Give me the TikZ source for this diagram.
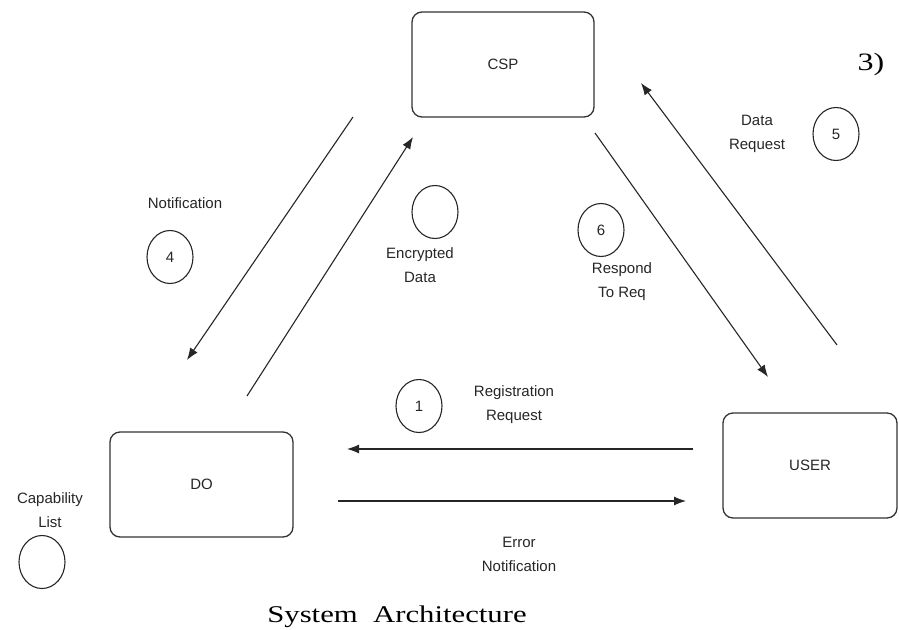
\documentclass[tikz,border=0pt]{standalone}
\usepackage{fontspec}
\setmainfont{Liberation Sans}
\newfontfamily\capfont{Liberation Serif}
\usetikzlibrary{arrows.meta,shapes.geometric}
\begin{document}
\begin{tikzpicture}[x=1pt,y=-1pt,
  ent/.style={draw=black!80, line width=1.3pt, rounded corners=10pt, inner sep=0pt, text=black!85,
    font=\fontsize{15}{18}\selectfont},
  lbl/.style={font=\fontsize{15}{24}\selectfont, align=center, text=black!85, inner sep=0pt},
  num/.style={ellipse, draw=black!85, line width=1.1pt, minimum width=46pt, minimum height=53pt,
    inner sep=0pt, text=black!85, font=\fontsize{15}{18}\selectfont},
  flow/.style={draw=black!85, line width=1.1pt, -{Latex[length=12pt,width=9pt]}},
  captxt/.style={font=\capfont\fontsize{24}{28}\selectfont, xscale=1.28, inner sep=0pt, anchor=base}
]
\useasboundingbox (0,0) rectangle (899,629);

% entities
\node[ent, minimum width=182pt, minimum height=105pt] (csp) at (503,64.5) {CSP};
\node[ent, minimum width=183pt, minimum height=105pt] (do) at (201.5,484.5) {DO};
\node[ent, minimum width=174pt, minimum height=105pt] (user) at (810,465.5) {USER};

% step circles
\node[num] (c5) at (836,134) {5};
\node[num] (c6) at (601,230) {6};
\node[num] (c4) at (170,257) {4};
\node[num] (cenc) at (435,212) {};
\node[num] (c1) at (419,406) {1};
\node[num] (ccap) at (42,562) {};

% labels
\node[lbl] (ldata) at (757,134) {Data\\Request};
\node[lbl] (lresp) at (622,282) {Respond\\To Req};
\node[lbl] (lnote) at (185,203) {Notification};
\node[lbl] (lenc) at (420,265) {Encrypted\\Data};
\node[lbl] (lreg) at (514,405) {Registration\\Request};
\node[lbl] (lerr) at (519,554) {Error\\Notification};
\node[lbl] (lcap) at (50,510) {Capability\\List};

% connector end points
\coordinate (nA) at (353,117); \coordinate (nB) at (187,360);
\coordinate (eA) at (247,396); \coordinate (eB) at (413,137);
\coordinate (dA) at (837,345); \coordinate (dB) at (641,83);
\coordinate (rA) at (595,133); \coordinate (rB) at (768,377);
\coordinate (gA) at (693,449); \coordinate (gB) at (347,449);
\coordinate (fA) at (338,501); \coordinate (fB) at (686,501);

\draw[flow] (nA) -- (nB);
\draw[flow] (eA) -- (eB);
\draw[flow] (dA) -- (dB);
\draw[flow] (rA) -- (rB);
\draw[flow] (gA) -- (gB);
\draw[flow] (fA) -- (fB);

% other text
\node[captxt, font=\capfont\fontsize{25}{28}\selectfont] (three) at (871,70) {3)};
\node[captxt] (caption) at (397,622) {System\hspace{6pt} Architecture};
\end{tikzpicture}
\end{document}
